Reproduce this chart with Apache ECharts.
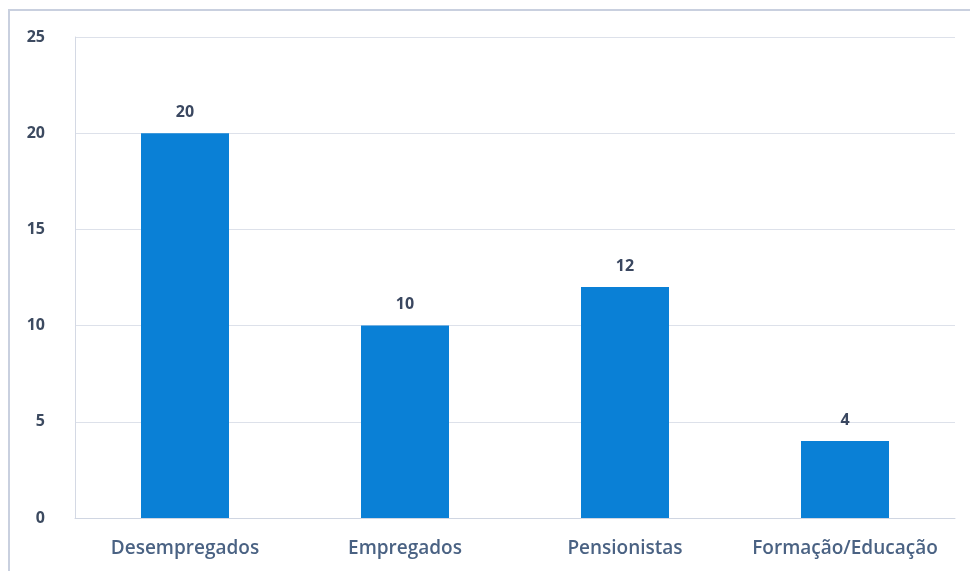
<!DOCTYPE html>
<html>
<head>
<meta charset="utf-8">
<script src="https://cdn.jsdelivr.net/npm/echarts@6/dist/echarts.min.js"></script>
<style>
  html, body { margin: 0; padding: 0; background: #fff; }
  #chart { width: 970px; height: 571px; }
</style>
</head>
<body>
<div id="chart"></div>
<script>
// dados do gráfico
var categories = ['Desempregados', 'Empregados', 'Pensionistas', 'Formação/Educação'];
var values = [20, 10, 12, 4];
var yTicks = [0, 5, 10, 15, 20, 25];

var myChart = echarts.init(document.getElementById('chart'));
var option = {
  animation: false,
  textStyle: { fontFamily: 'Open Sans' },
  grid: { left: 75, right: 15, top: 37, bottom: 53 },
  // moldura exterior
  graphic: [{
    type: 'rect',
    shape: { x: 9, y: 10, width: 1000, height: 600 },
    style: { fill: 'none', stroke: '#c9d0df', lineWidth: 2 },
    silent: true
  }],
  xAxis: {
    type: 'category',
    data: categories,
    axisLine: { lineStyle: { color: '#d0d6e2' } },
    axisTick: { show: false },
    axisLabel: { color: '#4a6283', fontSize: 19, margin: 21, interval: 0, fontWeight: 600 }
  },
  yAxis: {
    type: 'value',
    min: yTicks[0],
    max: yTicks[yTicks.length - 1],
    interval: 5,
    axisLine: { show: true, lineStyle: { color: '#d4d9e4' } },
    axisTick: { show: false },
    splitLine: { lineStyle: { color: '#dde1ea' } },
    axisLabel: { color: '#3c4a60', fontSize: 16, margin: 30, fontWeight: 'bold' }
  },
  series: [{
    type: 'bar',
    data: values,
    barWidth: '40%',
    itemStyle: { color: '#0a80d6' },
    label: {
      show: true,
      position: 'top',
      distance: 13,
      color: '#3a4760',
      fontSize: 16,
      fontWeight: 'bold'
    }
  }]
};
myChart.setOption(option);
</script>
</body>
</html>
